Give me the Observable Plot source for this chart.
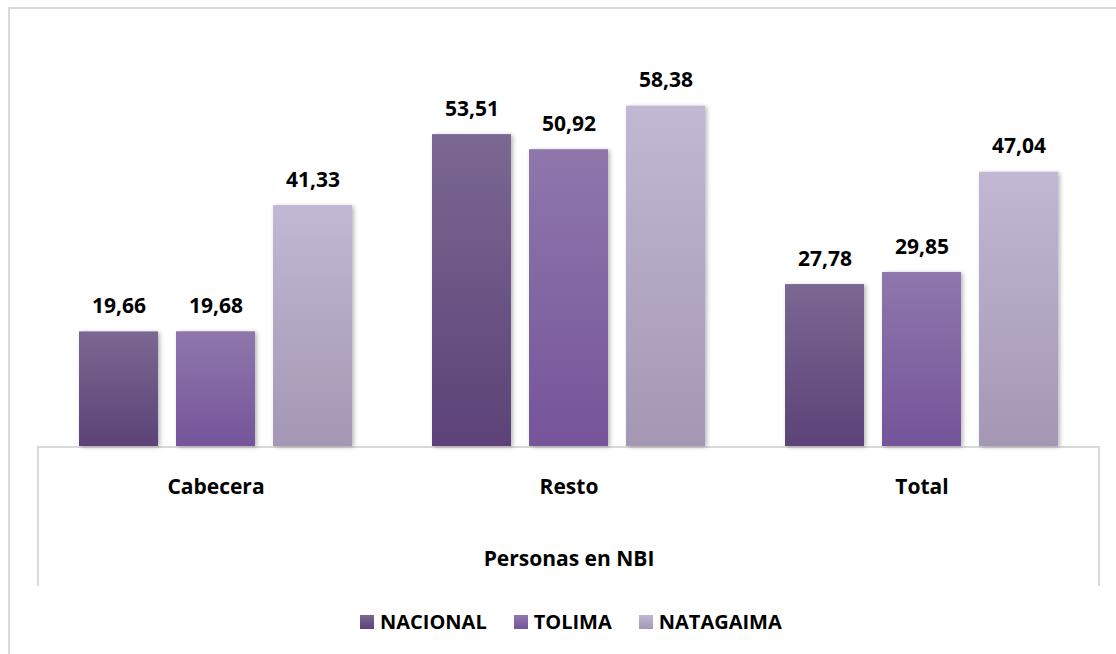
<!DOCTYPE html>
<html>
<head>
<meta charset="utf-8">
<script src="https://cdn.jsdelivr.net/npm/d3@7"></script>
<script src="https://cdn.jsdelivr.net/npm/@observablehq/plot@0.6"></script>
<style>
  html, body { margin: 0; padding: 0; background: #fff; overflow: hidden; }
  body { width: 1116px; height: 654px; position: relative; font-family: "Open Sans", sans-serif; }
  #outer { position: absolute; left: 8px; top: 7px; width: 1200px; height: 700px; border: 2px solid #d9d9d9; box-sizing: border-box; }
  #axisbox { position: absolute; left: 37px; top: 446px; width: 1063px; height: 140px; border: 2px solid #d9d9d9; border-bottom: none; box-sizing: border-box; }
  #chart { position: absolute; left: 0; top: 0; }
  #chart svg { background: transparent !important; }
  #chart g[aria-label="bar"] rect { filter: drop-shadow(2px 1px 2px rgba(0,0,0,0.28)); }
  #legend { position: absolute; left: 360px; top: 608px; display: flex; align-items: center; font-weight: bold; font-size: 20px; color: #000; }
  #legend .item { display: flex; align-items: center; margin-right: 27px; }
  #legend svg { margin-right: 6px; }
</style>
</head>
<body>
<div id="outer"></div>
<div id="axisbox"></div>
<svg width="0" height="0" style="position:absolute">
  <defs id="gdefs"></defs>
</svg>
<div id="chart"></div>
<div id="legend"></div>
<script>
// ---- data ----
const categories = ["Cabecera", "Resto", "Total"];
const series = ["NACIONAL", "TOLIMA", "NATAGAIMA"];
const nacional = [19.66, 53.51, 27.78];
const tolima = [19.68, 50.92, 29.85];
const natagaima = [41.33, 58.38, 47.04];
const axisTitle = "Personas en NBI";

// ---- styles ----
const gradients = [
  {id: "g0", top: "#7b6892", bottom: "#5c4278"},
  {id: "g1", top: "#8f77ac", bottom: "#75549a"},
  {id: "g2", top: "#c2b8d3", bottom: "#a497b3"}
];
const defs = d3.select("#gdefs");
gradients.forEach(g => {
  const lg = defs.append("linearGradient").attr("id", g.id)
    .attr("x1", 0).attr("y1", 0).attr("x2", 0).attr("y2", 1);
  lg.append("stop").attr("offset", "0%").attr("stop-color", g.top);
  lg.append("stop").attr("offset", "100%").attr("stop-color", g.bottom);
});
const fills = gradients.map(g => `url(#${g.id})`);

const valuesBySeries = [nacional, tolima, natagaima];
const data = [];
categories.forEach((c, i) => {
  series.forEach((s, j) => {
    data.push({category: c, series: s, value: valuesBySeries[j][i]});
  });
});
const fmt = v => v.toFixed(2).replace(".", ",");

const chart = Plot.plot({
  width: 1116,
  height: 600,
  marginTop: 38,
  marginBottom: 154,
  marginLeft: 38,
  marginRight: 17,
  style: {fontFamily: "'Open Sans', sans-serif", fontSize: "21px", fontWeight: "bold", color: "#000"},
  fx: {domain: categories, padding: 0, axis: "bottom", tickSize: 0, tickPadding: 33, label: axisTitle, labelAnchor: "center", labelOffset: 119},
  x: {domain: series, paddingInner: 0.184, paddingOuter: 0.397, axis: null},
  y: {domain: [0, 70], axis: null},
  color: {domain: series, range: fills},
  marks: [
    Plot.barY(data, {fx: "category", x: "series", y: "value", fill: "series"}),
    Plot.text(data, {fx: "category", x: "series", y: "value", text: d => fmt(d.value), lineAnchor: "bottom", dy: -19, fontSize: 21, fontWeight: "bold", fill: "#000"})
  ]
});
document.getElementById("chart").appendChild(chart);

// ---- legend ----
const legend = d3.select("#legend");
series.forEach((s, j) => {
  const item = legend.append("div").attr("class", "item");
  const sw = item.append("svg").attr("width", 14).attr("height", 14);
  sw.append("rect").attr("width", 14).attr("height", 14).attr("fill", chart.scale("color").apply(s));
  item.append("span").text(s);
});
</script>
</body>
</html>
